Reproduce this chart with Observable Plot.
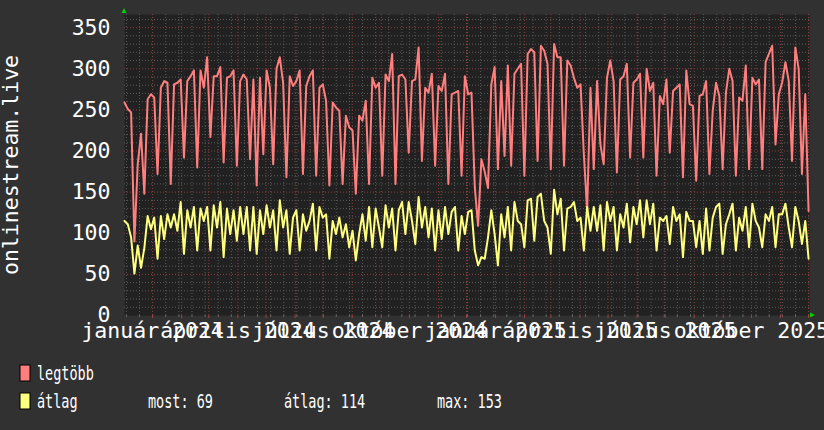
<!DOCTYPE html>
<html><head><meta charset="utf-8">
<script src="https://cdn.jsdelivr.net/npm/d3@7"></script>
<script src="https://cdn.jsdelivr.net/npm/@observablehq/plot@0.6"></script>
<style>
html,body{margin:0;padding:0;background:#313131;}
#wrap{position:relative;width:824px;height:430px;overflow:hidden;}
svg{overflow:hidden;}
</style></head><body><div id="wrap"></div>
<script>
// time span of the graph (two years)
const startDate = new Date(Date.UTC(2023, 11, 2));
const endDate = new Date(Date.UTC(2025, 11, 2));

// series values (evenly spaced samples)
const legtobb = [
259,251,247,90,184,221,148,263,269,265,172,277,285,283,160,281,283,287,192,285,291,298,180,298,277,314,217,291,291,302,186,289,291,298,182,285,293,287,190,287,158,289,196,298,277,184,300,314,283,168,291,279,
285,298,172,279,291,298,170,277,281,261,158,259,253,249,160,243,229,225,148,243,237,261,160,289,277,283,170,293,285,318,160,291,293,287,198,285,287,326,188,277,271,294,182,279,273,294,160,269,271,273,170,291,
269,271,156,109,190,175,155,281,302,178,285,194,304,182,294,300,306,170,318,324,320,188,328,322,306,178,330,314,314,182,310,304,289,277,281,196,127,277,178,285,208,184,289,310,285,174,287,291,306,192,283,287,
294,192,300,273,283,170,267,257,287,198,273,277,281,168,298,257,255,164,267,269,285,172,249,283,267,178,271,300,285,170,265,261,304,178,289,281,287,178,308,318,328,208,269,283,308,285,188,326,300,172,269,127
];
const atlag = [
115,111,95,51,85,58,82,121,105,119,69,121,93,123,107,123,103,138,75,128,107,132,79,130,115,132,79,134,107,138,71,130,99,128,91,132,99,132,79,132,75,128,99,134,107,128,79,140,107,128,75,119,
128,79,123,103,115,136,79,132,119,123,69,115,99,119,95,111,83,103,67,99,123,91,132,83,130,107,83,134,107,130,79,128,138,99,138,115,87,144,107,132,95,130,79,128,93,132,99,126,132,79,121,99,
126,128,79,61,71,69,95,128,99,61,123,95,132,79,138,115,111,83,140,142,91,144,148,115,107,75,153,123,142,79,130,132,138,115,119,79,132,103,132,103,134,79,138,115,132,79,123,107,136,89,132,111,
140,95,140,111,136,79,119,115,121,87,132,115,123,71,126,115,115,83,115,75,130,79,119,132,136,75,111,123,136,79,119,103,132,83,136,115,107,83,123,115,132,83,123,123,136,107,83,132,115,87,115,69
];

const seriesNames = ["legtöbb", "átlag"];
const seriesColors = ["#ff7f7f", "#ffff7f"];

const tickDates = [
  new Date(Date.UTC(2024,0,1)), new Date(Date.UTC(2024,3,1)), new Date(Date.UTC(2024,6,1)), new Date(Date.UTC(2024,9,1)),
  new Date(Date.UTC(2025,0,1)), new Date(Date.UTC(2025,3,1)), new Date(Date.UTC(2025,6,1)), new Date(Date.UTC(2025,9,1))
];
const tickLabels = ["január 2024","április 2024","július 2024","október 2024","január 2025","április 2025","július 2025","október 2025"];
const yTicks = [0,50,100,150,200,250,300,350];
const yTitle = "onlinestream.live";
const statLabels = ["most: 69", "átlag: 114", "max: 153"];

// build table: samples evenly spread over the plotted span (last one just before the right edge)
const n = legtobb.length;
const t0 = startDate.getTime(), tLast = new Date(Date.UTC(2025, 11, 1)).getTime();
const rows = [];
[legtobb, atlag].forEach((arr, s) => arr.forEach((v, i) => rows.push({t: new Date(t0 + (tLast - t0) * i / (n - 1)), v, s: seriesNames[s]})));

const minorX = d3.utcMonday.every(2).range(startDate, endDate);
const majorX = d3.utcMonth.range(startDate, endDate);
const minorY = d3.range(10, 366, 10).filter(v => v % 50 !== 0);
const majorY = d3.range(50, 366, 50);

const font = "DejaVu Sans Mono";
const fs = 21.5;
const chart = Plot.plot({
  width: 824, height: 430,
  marginLeft: 124, marginRight: 15, marginTop: 14, marginBottom: 115,
  style: {background: "#313131", color: "#fff", fontFamily: font, overflow: "hidden"},
  x: {type: "utc", domain: [startDate, endDate], label: null},
  y: {domain: [0, 366], label: null},
  color: {domain: seriesNames, range: seriesColors},
  marks: [
    Plot.frame({fill: "#212121", stroke: null}),
    Plot.ruleY(minorY, {stroke: "#5a5a5a", strokeDasharray: "1,2"}),
    Plot.ruleX(minorX, {stroke: "#5a5a5a", strokeDasharray: "1,2"}),
    Plot.ruleY(majorY, {stroke: "#8c3c3c", strokeDasharray: "1,2"}),
    Plot.ruleX(majorX, {stroke: "#8c3c3c", strokeDasharray: "1,2"}),
    Plot.axisX({ticks: minorX, tickSize: 2, stroke: "#6a6a6a", tickFormat: () => "", label: null}),
    Plot.axisX({ticks: majorX, tickSize: 3, stroke: "#a04444", tickFormat: () => "", label: null}),
    Plot.axisY({ticks: yTicks, tickSize: 0, tickPadding: 14, fontSize: fs, fill: "#fff", label: null}),
    Plot.axisX({ticks: tickDates, tickFormat: (d, i) => tickLabels[i], tickSize: 0, tickPadding: 7.5, fontSize: fs, fill: "#fff", label: null}),
    Plot.line(rows, {x: "t", y: "v", z: "s", stroke: "s", strokeWidth: 2})
  ]
});
document.getElementById("wrap").appendChild(chart);

// extra RRD-style decorations: title, arrows, legend
const svg = d3.select(chart);
svg.append("text").attr("transform", "translate(18,165) rotate(-90)")
  .attr("text-anchor", "middle").attr("fill", "#fff").attr("font-family", font).attr("font-size", fs).text(yTitle);
svg.append("path").attr("d", "M121.5,13 L126.5,13 L124,8 Z").attr("fill", "#00d000");
svg.append("path").attr("d", "M810,312.5 L810,317.5 L815,315 Z").attr("fill", "#00d000");

const leg = svg.append("g").attr("text-anchor", "start");
const rowsY = [380, 408];
seriesNames.forEach((name, i) => {
  leg.append("rect").attr("x", 20).attr("y", rowsY[i] - 15).attr("width", 10).attr("height", 16)
    .attr("fill", seriesColors[i]).attr("stroke", "#000").attr("stroke-width", 1);
  leg.append("text").attr("transform", `translate(37,${rowsY[i]}) scale(0.675,1)`).attr("text-anchor", "start")
    .attr("fill", "#fff").attr("font-family", font).attr("font-size", 20).text(name);
});
const statX = [148, 284, 437];
statLabels.forEach((s, i) => {
  leg.append("text").attr("transform", `translate(${statX[i]},${rowsY[1]}) scale(0.675,1)`).attr("text-anchor", "start")
    .attr("fill", "#fff").attr("font-family", font).attr("font-size", 20).text(s);
});
</script></body></html>
